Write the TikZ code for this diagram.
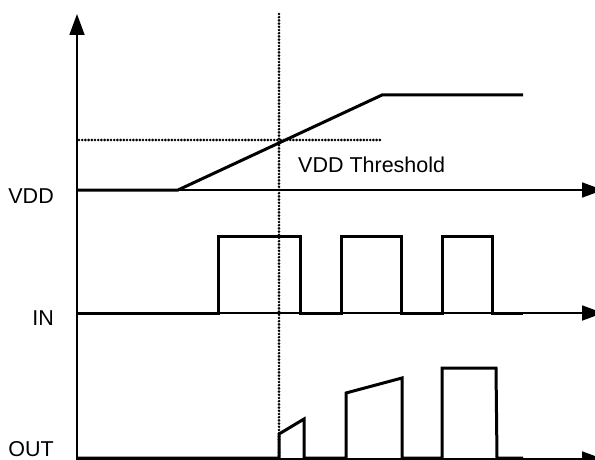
\documentclass[tikz,border=0pt]{standalone}
\usepackage{fontspec}
\setmainfont{Liberation Sans}
\usetikzlibrary{arrows.meta}
\begin{document}
\begin{tikzpicture}[x=1pt,y=-1pt,
  axisline/.style={line width=1.8pt, -{Triangle[length=21pt,width=15pt]}},
  signal/.style={line width=3pt, line join=miter},
  dotfill/.style={fill=black},
  lbl/.style={font=\fontsize{21.5}{24}\selectfont, inner sep=0pt}]
\useasboundingbox (0,0) rectangle (595,460);
\fill[white] (0,0) rectangle (595,460);
% axes
\coordinate (o) at (77,460);
\coordinate (ytip) at (77,14);
\draw[axisline] (o) -- (ytip);
\coordinate (v0) at (77,190); \coordinate (v1) at (603,190);
\coordinate (i0) at (77,313); \coordinate (i1) at (603,313);
\coordinate (u0) at (77,459); \coordinate (u1) at (603,459);
\draw[axisline] (v0) -- (v1);
\draw[axisline] (i0) -- (i1);
\draw[axisline] (u0) -- (u1);
% dotted lines (rows of dots)
\foreach \xx in {79,82.2,...,381} \fill[dotfill] (\xx,140) circle[radius=1.45pt];
\foreach \yy in {14,17.2,...,462} \fill[dotfill] (279,\yy) circle[radius=1.45pt];
% VDD signal
\draw[signal] (77,190) -- (178,190) -- (382,95) -- (523,95);
% IN signal
\draw[signal] (77,313) -- (218,313) -- (218,236) -- (300,236) -- (300,313)
  -- (341,313) -- (341,236) -- (401,236) -- (401,313)
  -- (442,313) -- (442,236) -- (492,236) -- (492,313) -- (523,313);
% OUT signal
\draw[signal] (77,458) -- (279,458) -- (279,434) -- (304,419) -- (304,458)
  -- (346,458) -- (346,393) -- (402,378) -- (402,458)
  -- (442,458) -- (442,368) -- (496,368) -- (497,458) -- (523,458);
% labels
\node[lbl, anchor=base east] (lvdd) at (54,203) {VDD};
\node[lbl, anchor=base east] (lin) at (54,325) {IN};
\node[lbl, anchor=base east] (lout) at (54,456) {OUT};
\node[lbl, anchor=base west] (lthr) at (298,172) {VDD Threshold};
\end{tikzpicture}
\end{document}
